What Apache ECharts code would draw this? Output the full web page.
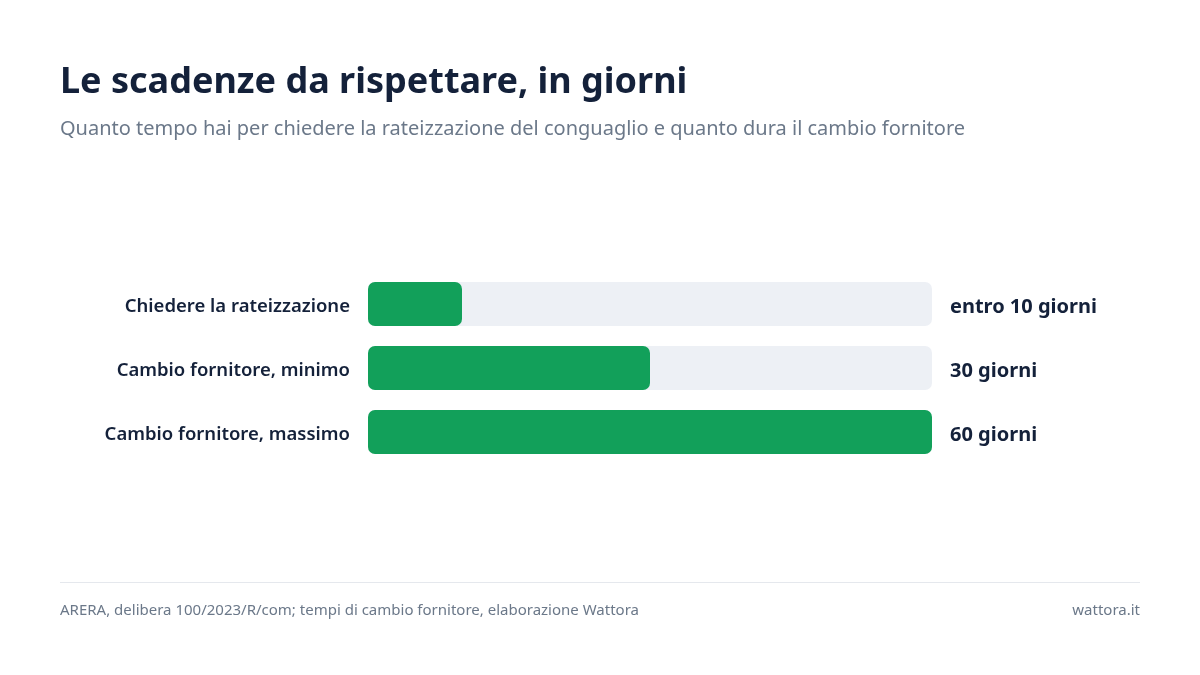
<!DOCTYPE html>
<html>
<head>
<meta charset="utf-8">
<script src="https://cdn.jsdelivr.net/npm/echarts@6/dist/echarts.min.js"></script>
<style>
  html, body { margin: 0; background: #fff; }
  #main { width: 1200px; height: 675px; }
</style>
</head>
<body>
<div id="main"></div>
<script>
// data
const categories = ['Chiedere la rateizzazione', 'Cambio fornitore, minimo', 'Cambio fornitore, massimo'];
const days = [10, 30, 60];
const valueLabels = ['entro 10 giorni', '30 giorni', '60 giorni'];
const maxDays = 60;

const font = 'Noto Sans';
const chart = echarts.init(document.getElementById('main'));

chart.setOption({
  backgroundColor: '#ffffff',
  animation: false,
  textStyle: { fontFamily: font },
  title: [{
    text: 'Le scadenze da rispettare, in giorni',
    left: 60, top: 65, padding: 0,
    textStyle: { fontSize: 36, fontWeight: 'bold', color: '#14213a', fontFamily: font }
  }, {
    text: 'Quanto tempo hai per chiedere la rateizzazione del conguaglio e quanto dura il cambio fornitore',
    left: 60, top: 119, padding: 0,
    textStyle: { fontSize: 20, fontWeight: 'normal', color: '#6b7889', fontFamily: font }
  }, {
    text: 'ARERA, delibera 100/2023/R/com; tempi di cambio fornitore, elaborazione Wattora',
    left: 60, top: 603, padding: 0,
    textStyle: { fontSize: 15, fontWeight: 'normal', color: '#6b7889', fontFamily: font }
  }, {
    text: 'wattora.it',
    right: 60, top: 603, padding: 0,
    textStyle: { fontSize: 15, fontWeight: 'normal', color: '#6b7889', fontFamily: font }
  }],
  graphic: [{
    type: 'line',
    shape: { x1: 60, y1: 582.5, x2: 1140, y2: 582.5 },
    style: { stroke: '#e5e8ed', lineWidth: 1 }
  }],
  grid: { left: 368, right: 268, top: 272, bottom: 211 },
  xAxis: { type: 'value', min: 0, max: maxDays, show: false },
  yAxis: [{
    type: 'category', inverse: true, data: categories,
    axisLine: { show: false }, axisTick: { show: false },
    axisLabel: { margin: 18, fontSize: 18.5, fontWeight: 600, color: '#14213a', fontFamily: font, lineHeight: 26, verticalAlign: 'top', padding: [-10, 0, 0, 0] }
  }, {
    type: 'category', inverse: true, data: valueLabels, position: 'right',
    axisLine: { show: false }, axisTick: { show: false },
    axisLabel: { margin: 18, fontSize: 20, fontWeight: 'bold', color: '#14213a', fontFamily: font, lineHeight: 26, verticalAlign: 'top', padding: [-10, 0, 0, 0] }
  }],
  series: [{
    type: 'bar',
    data: days.map(() => maxDays),
    barWidth: 44,
    barGap: '-100%',
    silent: true,
    itemStyle: { color: '#edf0f5', borderRadius: 7 }
  }, {
    type: 'bar',
    data: days,
    barWidth: 44,
    itemStyle: { color: '#12a05a', borderRadius: 7 }
  }]
});
</script>
</body>
</html>
